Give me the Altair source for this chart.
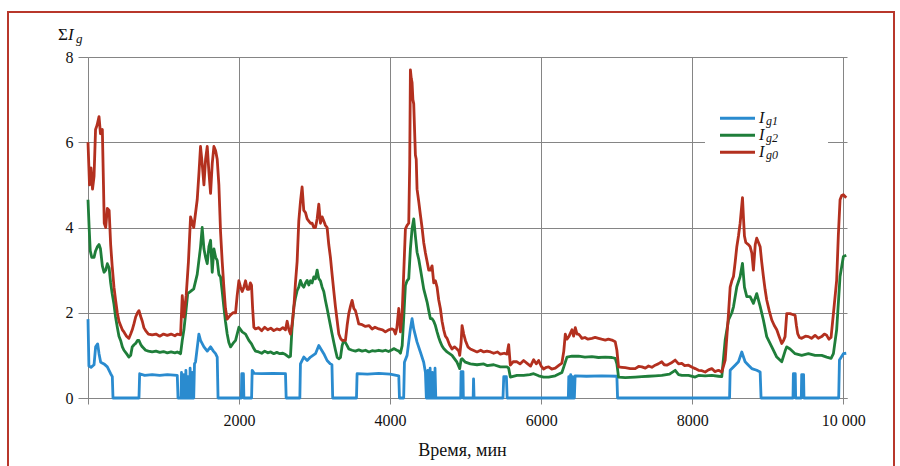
import altair as alt
import pandas as pd

# ---------------- data ----------------
X_DOMAIN = [0, 10050]
Y_DOMAIN = [0, 8]
x_tick_values = [0, 2000, 4000, 6000, 8000, 10000]
x_tick_labels = ["", "2000", "4000", "6000", "8000", "10 000"]
y_tick_values = [0, 2, 4, 6, 8]
x_title = "Время, мин"

series_main = ["I", "I", "I"]
series_sub = ["g1", "g2", "g0"]
series_colors = ["#2a8bcf", "#1f7e3a", "#b3301f"]

# Ig1 (blue): (time, value)
ig1_points = [
    (0, 1.85), (12, 0.75), (40, 0.72), (80, 0.78), (101, 1.2), (128, 1.27), (146, 1.04), (168, 0.84),
    (212, 0.8), (256, 0.73), (300, 0.57), (322, 0.5), (331, 0.0), (675, 0.0), (684, 0.57), (750, 0.53),
    (850, 0.55), (950, 0.53), (1050, 0.55), (1182, 0.53), (1192, 0.0), (1232, 0.0), (1238, 0.6), (1248, 0.0),
    (1262, 0.0), (1268, 0.55), (1278, 0.0), (1290, 0.0), (1296, 0.65), (1306, 0.0), (1318, 0.0), (1324, 0.5),
    (1334, 0.0), (1346, 0.0), (1352, 0.7), (1362, 0.0), (1374, 0.0), (1380, 0.6), (1390, 0.0), (1400, 0.0),
    (1410, 0.8), (1424, 0.85), (1468, 1.5), (1490, 1.35), (1535, 1.2), (1579, 1.1), (1623, 1.2), (1660, 1.1),
    (1689, 1.04), (1711, 0.96), (1722, 0.0), (2030, 0.0), (2036, 0.57), (2058, 0.57), (2064, 0.0), (2166, 0.0),
    (2174, 0.65), (2200, 0.58), (2300, 0.57), (2450, 0.58), (2615, 0.57), (2624, 0.0), (2805, 0.0), (2813, 0.8),
    (2857, 0.96), (2902, 0.88), (2946, 0.96), (3012, 1.04), (3056, 1.23), (3122, 1.04), (3166, 0.88), (3210, 0.8),
    (3230, 0.78), (3240, 0.0), (3555, 0.0), (3563, 0.57), (3700, 0.56), (3850, 0.58), (4000, 0.56), (4115, 0.52),
    (4124, 0.0), (4180, 0.0), (4190, 0.84), (4225, 1.0), (4269, 1.62), (4291, 1.86), (4313, 1.62), (4357, 1.31),
    (4401, 1.08), (4445, 0.84), (4468, 0.6), (4480, 0.0), (4495, 0.0), (4500, 0.65), (4510, 0.0), (4525, 0.0),
    (4530, 0.7), (4540, 0.0), (4555, 0.0), (4560, 0.6), (4570, 0.0), (4590, 0.0), (4595, 0.7), (4605, 0.0),
    (4935, 0.0), (4940, 0.62), (4965, 0.62), (4970, 0.0), (5100, 0.0), (5105, 0.45), (5112, 0.0), (5495, 0.0),
    (5505, 0.5), (5540, 0.5), (5550, 0.0), (6360, 0.0), (6366, 0.5), (6374, 0.0), (6385, 0.0), (6391, 0.55),
    (6399, 0.0), (6410, 0.0), (6416, 0.5), (6424, 0.0), (6440, 0.0), (6450, 0.52), (6600, 0.51), (6800, 0.52),
    (7003, 0.51), (7012, 0.0), (8495, 0.0), (8503, 0.65), (8569, 0.77), (8613, 0.85), (8657, 1.08), (8701, 0.85),
    (8745, 0.77), (8789, 0.69), (8855, 0.65), (8900, 0.61), (8912, 0.0), (9335, 0.0), (9340, 0.57), (9365, 0.57),
    (9370, 0.0), (9445, 0.0), (9450, 0.55), (9475, 0.55), (9480, 0.0), (9940, 0.0), (9950, 0.89), (10002, 1.04),
    (10040, 1.05),
]

# Ig2 (green)
ig2_points = [
    (0, 4.65), (15, 4.0), (30, 3.45), (50, 3.3), (80, 3.3), (100, 3.45), (125, 3.55), (146, 3.6), (165, 3.5), (190, 3.1),
    (212, 2.95), (235, 3.0), (256, 3.15), (280, 3.05), (300, 2.7), (320, 2.45), (344, 2.2), (365, 1.9), (388, 1.66), (410, 1.45),
    (432, 1.35), (455, 1.2), (476, 1.12), (510, 1.04), (542, 0.96), (565, 1.0), (586, 1.2), (610, 1.25), (631, 1.28), (655, 1.35),
    (675, 1.35), (700, 1.25), (719, 1.2), (763, 1.12), (800, 1.1), (850, 1.08), (900, 1.1), (950, 1.07), (1000, 1.09), (1050, 1.06),
    (1100, 1.08), (1150, 1.06), (1182, 1.08), (1226, 1.04), (1248, 1.35), (1270, 1.6), (1300, 2.1), (1320, 2.45), (1358, 2.5), (1400, 2.56),
    (1446, 2.9), (1490, 3.54), (1512, 4.0), (1535, 3.5), (1557, 3.3), (1579, 3.15), (1601, 3.55), (1623, 3.7), (1645, 2.95), (1667, 3.5),
    (1690, 3.3), (1711, 3.23), (1733, 2.9), (1755, 2.84), (1777, 2.5), (1799, 2.13), (1820, 1.8), (1843, 1.5), (1865, 1.3), (1888, 1.2),
    (1920, 1.28), (1954, 1.35), (1998, 1.66), (2042, 1.55), (2086, 1.5), (2130, 1.35), (2165, 1.27), (2196, 1.16), (2218, 1.1), (2260, 1.08),
    (2300, 1.05), (2340, 1.1), (2380, 1.06), (2420, 1.08), (2460, 1.04), (2500, 1.07), (2540, 1.04), (2580, 1.05), (2615, 1.02), (2660, 0.96),
    (2681, 0.98), (2700, 1.6), (2725, 2.13), (2747, 2.35), (2769, 2.52), (2791, 2.6), (2813, 2.76), (2835, 2.65), (2857, 2.6), (2880, 2.7),
    (2902, 2.76), (2924, 2.65), (2946, 2.75), (2968, 2.7), (2990, 2.84), (3012, 2.8), (3034, 3.0), (3056, 2.8), (3078, 2.75), (3100, 2.6),
    (3122, 2.5), (3144, 2.29), (3166, 2.1), (3188, 1.9), (3210, 1.7), (3232, 1.5), (3255, 1.3), (3277, 1.12), (3300, 0.95), (3321, 0.92),
    (3343, 0.95), (3365, 1.23), (3387, 1.35), (3409, 1.3), (3431, 1.23), (3453, 1.15), (3497, 1.12), (3541, 1.1), (3585, 1.13), (3630, 1.1),
    (3674, 1.12), (3720, 1.08), (3762, 1.11), (3800, 1.1), (3850, 1.12), (3900, 1.1), (3938, 1.12), (3980, 1.09), (4026, 1.13), (4048, 1.16),
    (4090, 1.12), (4115, 1.1), (4137, 1.05), (4160, 1.23), (4181, 1.9), (4203, 2.64), (4225, 2.75), (4247, 2.8), (4269, 3.5), (4291, 3.97),
    (4313, 4.2), (4335, 3.8), (4357, 3.42), (4380, 3.25), (4401, 3.03), (4423, 2.8), (4445, 2.56), (4468, 2.4), (4490, 2.25), (4512, 2.05),
    (4534, 1.86), (4556, 1.86), (4578, 1.8), (4600, 1.7), (4622, 1.55), (4644, 1.42), (4666, 1.31), (4688, 1.22), (4710, 1.16), (4754, 1.08),
    (4820, 1.0), (4886, 0.84), (4922, 0.69), (4940, 0.9), (4953, 0.92), (4997, 0.84), (5063, 0.8), (5151, 0.78), (5240, 0.8), (5283, 0.76),
    (5372, 0.78), (5460, 0.73), (5548, 0.73), (5570, 0.7), (5592, 0.49), (5680, 0.53), (5768, 0.53), (5850, 0.55), (5901, 0.57), (5967, 0.52),
    (6033, 0.49), (6099, 0.49), (6187, 0.52), (6275, 0.6), (6300, 0.73), (6342, 0.96), (6408, 0.98), (6496, 0.98), (6580, 0.96), (6672, 0.97),
    (6760, 0.95), (6849, 0.96), (6937, 0.95), (6981, 0.93), (7003, 0.8), (7025, 0.49), (7114, 0.48), (7246, 0.49), (7334, 0.5), (7422, 0.51),
    (7510, 0.52), (7598, 0.53), (7700, 0.56), (7775, 0.65), (7820, 0.55), (7863, 0.53), (7951, 0.53), (8040, 0.49), (8084, 0.53), (8172, 0.52),
    (8260, 0.53), (8348, 0.51), (8392, 0.5), (8437, 1.36), (8481, 1.83), (8525, 2.0), (8547, 2.14), (8591, 2.61), (8635, 2.85), (8666, 3.16),
    (8692, 2.6), (8723, 2.38), (8767, 2.38), (8811, 2.22), (8855, 2.45), (8900, 2.15), (8943, 1.83), (8987, 1.44), (9054, 1.2), (9120, 0.96),
    (9186, 0.85), (9230, 1.1), (9252, 1.2), (9296, 1.15), (9363, 1.04), (9450, 1.0), (9539, 1.04), (9627, 1.0), (9715, 1.0), (9781, 0.96),
    (9839, 0.93), (9870, 1.04), (9913, 1.6), (9958, 2.85), (10002, 3.32), (10040, 3.35),
]

# Ig0 (red)
ig0_points = [
    (0, 6.0), (20, 5.0), (40, 5.4), (60, 4.9), (80, 5.2), (100, 6.3), (120, 6.4), (146, 6.6), (165, 6.2), (190, 6.3),
    (205, 5.0), (215, 4.1), (235, 4.0), (256, 4.45), (280, 4.4), (300, 3.6), (320, 3.1), (344, 2.6), (365, 2.3), (388, 2.0),
    (410, 1.8), (432, 1.7), (455, 1.6), (476, 1.55), (510, 1.45), (542, 1.4), (565, 1.5), (586, 1.6), (610, 1.75), (631, 1.9),
    (655, 2.0), (675, 2.05), (700, 1.9), (719, 1.8), (740, 1.65), (763, 1.58), (800, 1.5), (850, 1.48), (900, 1.5), (950, 1.45),
    (1000, 1.5), (1050, 1.47), (1100, 1.5), (1150, 1.46), (1182, 1.5), (1226, 1.48), (1248, 2.4), (1270, 1.9), (1300, 2.4), (1330, 3.2),
    (1358, 4.25), (1400, 4.0), (1446, 4.65), (1470, 5.3), (1490, 5.9), (1512, 5.5), (1535, 5.0), (1557, 5.6), (1579, 5.9), (1601, 5.3),
    (1623, 4.8), (1645, 5.5), (1667, 5.9), (1690, 5.8), (1711, 5.6), (1733, 5.0), (1755, 3.9), (1777, 3.2), (1799, 2.6), (1820, 2.1),
    (1843, 1.85), (1865, 1.9), (1888, 1.95), (1920, 2.0), (1954, 2.0), (1975, 2.4), (1998, 2.75), (2020, 2.6), (2042, 2.5), (2064, 2.6),
    (2086, 2.75), (2108, 2.55), (2130, 2.55), (2150, 2.7), (2165, 2.65), (2180, 2.1), (2196, 1.66), (2218, 1.62), (2260, 1.65), (2300, 1.58),
    (2340, 1.66), (2380, 1.6), (2420, 1.64), (2460, 1.58), (2500, 1.62), (2540, 1.6), (2580, 1.65), (2615, 1.6), (2637, 1.8), (2660, 1.6),
    (2681, 1.5), (2700, 1.7), (2725, 2.1), (2747, 2.7), (2769, 3.2), (2791, 4.15), (2813, 4.6), (2835, 4.95), (2857, 4.4), (2880, 4.35),
    (2902, 4.2), (2924, 4.15), (2946, 4.1), (2968, 4.1), (2990, 4.0), (3012, 4.0), (3034, 4.2), (3056, 4.55), (3078, 4.1), (3100, 4.25),
    (3122, 4.15), (3144, 4.05), (3166, 4.0), (3188, 3.6), (3210, 3.3), (3232, 2.9), (3255, 2.5), (3277, 2.13), (3300, 1.8), (3321, 1.5),
    (3343, 1.4), (3365, 1.35), (3387, 1.35), (3409, 1.35), (3431, 1.7), (3453, 1.98), (3475, 2.15), (3497, 2.29), (3520, 2.1), (3541, 2.05),
    (3563, 1.9), (3585, 1.74), (3630, 1.72), (3674, 1.68), (3720, 1.7), (3762, 1.62), (3800, 1.66), (3850, 1.62), (3900, 1.6), (3938, 1.55),
    (3980, 1.6), (4026, 1.62), (4048, 1.6), (4071, 1.5), (4090, 1.65), (4115, 2.1), (4137, 1.55), (4160, 2.0), (4181, 2.95), (4203, 3.97),
    (4225, 4.05), (4247, 4.1), (4260, 5.5), (4269, 7.7), (4280, 7.5), (4291, 7.4), (4302, 7.0), (4313, 6.9), (4324, 6.3), (4335, 5.7),
    (4346, 5.6), (4357, 4.9), (4380, 4.6), (4401, 4.3), (4423, 4.0), (4445, 3.65), (4468, 3.4), (4490, 3.2), (4512, 3.0), (4534, 3.0),
    (4556, 3.1), (4578, 2.7), (4600, 2.75), (4622, 2.6), (4644, 2.3), (4666, 2.1), (4688, 1.8), (4710, 1.6), (4732, 1.45), (4754, 1.4),
    (4787, 1.25), (4820, 1.15), (4853, 1.2), (4886, 1.15), (4910, 1.1), (4922, 1.0), (4940, 1.3), (4953, 1.7), (4975, 1.5), (4997, 1.35),
    (5030, 1.2), (5063, 1.15), (5100, 1.12), (5151, 1.08), (5200, 1.12), (5240, 1.08), (5283, 1.1), (5330, 1.08), (5372, 1.05), (5420, 1.08),
    (5460, 1.03), (5510, 1.05), (5548, 1.03), (5570, 1.25), (5592, 0.77), (5630, 0.85), (5680, 0.85), (5720, 0.8), (5768, 0.88), (5810, 0.82),
    (5860, 0.75), (5901, 0.9), (5935, 0.8), (5967, 0.88), (6000, 0.75), (6033, 0.68), (6070, 0.72), (6099, 0.73), (6140, 0.68), (6187, 0.7),
    (6230, 0.76), (6275, 0.82), (6300, 1.1), (6320, 1.5), (6342, 1.38), (6370, 1.45), (6408, 1.6), (6430, 1.45), (6452, 1.65), (6475, 1.5),
    (6496, 1.5), (6520, 1.45), (6540, 1.4), (6580, 1.42), (6620, 1.38), (6672, 1.4), (6715, 1.42), (6760, 1.4), (6800, 1.38), (6849, 1.36),
    (6890, 1.38), (6937, 1.36), (6981, 1.32), (7003, 1.12), (7025, 0.73), (7070, 0.72), (7114, 0.71), (7180, 0.69), (7246, 0.69), (7290, 0.74),
    (7334, 0.73), (7380, 0.7), (7422, 0.75), (7466, 0.72), (7510, 0.77), (7550, 0.8), (7598, 0.85), (7630, 0.78), (7664, 0.77), (7720, 0.82),
    (7775, 0.89), (7820, 0.8), (7863, 0.81), (7900, 0.76), (7951, 0.77), (8000, 0.72), (8040, 0.69), (8084, 0.65), (8128, 0.64), (8172, 0.61),
    (8216, 0.66), (8260, 0.69), (8300, 0.62), (8348, 0.65), (8392, 0.61), (8437, 0.89), (8481, 1.98), (8503, 2.6), (8525, 2.75), (8547, 2.85),
    (8570, 3.2), (8591, 3.55), (8613, 3.8), (8635, 4.1), (8666, 4.7), (8680, 4.2), (8692, 3.8), (8710, 3.65), (8723, 3.63), (8745, 3.6),
    (8767, 3.55), (8790, 3.4), (8811, 3.0), (8835, 3.6), (8855, 3.75), (8878, 3.65), (8900, 3.55), (8920, 3.2), (8943, 2.85), (8965, 2.55),
    (8987, 2.3), (9020, 2.05), (9054, 1.83), (9087, 1.7), (9120, 1.6), (9150, 1.45), (9186, 1.28), (9210, 1.35), (9230, 1.44), (9252, 1.98),
    (9275, 1.98), (9296, 1.98), (9330, 1.96), (9363, 1.94), (9380, 1.7), (9397, 1.51), (9420, 1.42), (9450, 1.4), (9500, 1.45), (9539, 1.44),
    (9580, 1.4), (9627, 1.47), (9670, 1.4), (9715, 1.44), (9750, 1.5), (9781, 1.47), (9810, 1.38), (9839, 1.42), (9870, 1.98), (9913, 2.76),
    (9935, 3.8), (9958, 4.65), (9980, 4.75), (10002, 4.77), (10040, 4.7),
]

series_points = [ig1_points, ig2_points, ig0_points]

# ---------------- chart ----------------
SERIF = "'Liberation Serif', 'Times New Roman', 'DejaVu Serif', serif"
GRID = "#858585"
W, H = 759, 341

label_expr = "''"
for v, l in reversed(list(zip(x_tick_values, x_tick_labels))):
    label_expr = f"datum.value == {v} ? '{l}' : ({label_expr})"

x_enc = alt.X(
    "t:Q",
    scale=alt.Scale(domain=X_DOMAIN, nice=False, zero=False),
    axis=alt.Axis(
        values=x_tick_values, labelExpr=label_expr, grid=True, tickSize=6,
        labelPadding=8, labelFont=SERIF, labelFontSize=16, labelColor="#111",
        title=x_title, titleFont=SERIF, titleFontSize=18, titleFontWeight="normal",
        titleColor="#111", titleY=57, titleBaseline="alphabetic", titleX=374,
        domainColor=GRID, tickColor=GRID, gridColor=GRID, labelFlush=False,
    ),
)
y_enc = alt.Y(
    "v:Q",
    scale=alt.Scale(domain=Y_DOMAIN, nice=False),
    axis=alt.Axis(
        values=y_tick_values, grid=True, tickSize=10, labelPadding=5,
        labelFont=SERIF, labelFontSize=16, labelColor="#111", title="",
        domainColor=GRID, tickColor=GRID, gridColor=GRID,
    ),
)

layers = []

border = alt.Chart(pd.DataFrame({"k": [0]})).mark_rect(
    fillOpacity=0, stroke="#b8372b", strokeWidth=2
).encode(x=alt.value(-80), x2=alt.value(806), y=alt.value(-45), y2=alt.value(430))
layers.append(border)

for pts, col in zip(series_points, series_colors):
    df = pd.DataFrame(pts, columns=["t", "v"])
    layers.append(
        alt.Chart(df).mark_line(color=col, strokeWidth=2.8, strokeJoin="round").encode(x=x_enc, y=y_enc)
    )

# legend (white box, sample lines, labels with subscripts)
layers.append(
    alt.Chart(pd.DataFrame({"k": [0]})).mark_rect(fill="white").encode(
        x=alt.value(617), x2=alt.value(740), y=alt.value(46), y2=alt.value(112)
    )
)
leg_y = [61.3, 78.3, 95.3]
for i, (main, sub, col) in enumerate(zip(series_main, series_sub, series_colors)):
    ly = leg_y[i]
    layers.append(
        alt.Chart(pd.DataFrame({"k": [0]})).mark_rule(color=col, strokeWidth=3).encode(
            x=alt.value(632), x2=alt.value(667), y=alt.value(ly)
        )
    )
    layers.append(
        alt.Chart(pd.DataFrame({"lab": [main]})).mark_text(
            font=SERIF, fontSize=16, fontStyle="italic", align="left", baseline="alphabetic", color="#111"
        ).encode(x=alt.value(671), y=alt.value(ly + 4.5), text="lab:N")
    )
    layers.append(
        alt.Chart(pd.DataFrame({"lab": [sub]})).mark_text(
            font=SERIF, fontSize=12, fontStyle="italic", align="left", baseline="alphabetic", color="#111"
        ).encode(x=alt.value(678), y=alt.value(ly + 6.5), text="lab:N")
    )

# y axis title  ΣI_g
title_parts = [("Σ", -30, -17.5, 17, "normal"), ("I", -20, -17.5, 17, "italic"), ("g", -12, -14, 13, "italic")]
for txt, px, py, fs, st in title_parts:
    layers.append(
        alt.Chart(pd.DataFrame({"lab": [txt]})).mark_text(
            font=SERIF, fontSize=fs, fontStyle=st, align="left", baseline="alphabetic", color="#111"
        ).encode(x=alt.value(px), y=alt.value(py), text="lab:N")
    )

chart = alt.layer(*layers).properties(
    width=W, height=H,
    autosize=alt.AutoSizeParams(type="none"),
    padding={"left": 88, "top": 57, "right": 53, "bottom": 68},
    background="white",
).configure_view(strokeWidth=0)

chart.save("out.html", embed_options={"renderer": "svg", "actions": False})
